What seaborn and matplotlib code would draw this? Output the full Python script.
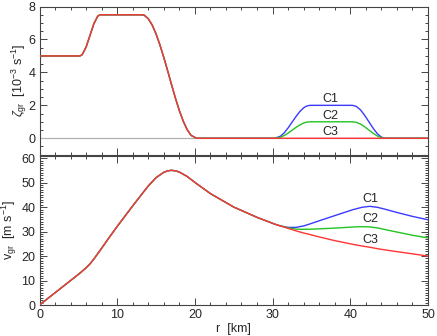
import matplotlib
matplotlib.use("Agg")
import matplotlib.pyplot as plt
import seaborn as sns
import numpy as np
import pandas as pd
from matplotlib.ticker import MultipleLocator

# ---- vorticity profile (10^-3 s^-1), shared part r <= 30.3 km ----
r_zeta_inner = [0, 5.2, 5.5, 6, 6.5, 7, 7.5, 7.8, 13.2, 13.5, 14, 14.5, 15, 15.5,
                16, 16.5, 17, 17.5, 18, 18.5, 19, 19.5, 20.2, 30.3]
zeta_inner = [5, 5, 5.08, 5.54, 6.25, 6.96, 7.42, 7.5, 7.5, 7.47, 7.26, 6.88, 6.34, 5.67,
              4.91, 4.09, 3.25, 2.43, 1.68, 1.04, 0.53, 0.18, 0, 0]

# outer part, one per case
r_zeta_outer = [31, 31.5, 32, 32.5, 33, 33.5, 34, 34.4, 34.8, 40.3, 40.8, 41.3,
                41.8, 42.4, 43, 43.5, 44, 44.5, 50]
zeta_c1 = [0.12, 0.33, 0.63, 0.97, 1.31, 1.62, 1.85, 1.96, 2, 2, 1.93, 1.73,
           1.43, 1.0, 0.57, 0.27, 0.07, 0, 0]
zeta_c2 = [0.06, 0.165, 0.315, 0.485, 0.655, 0.81, 0.925, 0.98, 1, 1, 0.965, 0.865,
           0.715, 0.5, 0.285, 0.135, 0.035, 0, 0]
zeta_c3 = [0] * len(r_zeta_outer)

# ---- gradient wind (m s^-1) ----
r_v_inner = [0, 2, 4, 5.2, 6, 6.5, 7, 7.8, 9, 10, 11, 12, 13.2, 14, 15, 16, 16.5,
             17, 17.5, 18, 19, 20.2, 22, 25, 28, 30.3]
v_inner = [0, 5.0, 10.0, 13.0, 15.2, 16.8, 18.8, 22.3, 27.7, 32.1, 36.3, 40.5, 45.4,
           48.6, 52.0, 54.2, 54.8, 55.0, 54.8, 54.3, 52.5, 49.6, 45.5, 40.0, 35.8, 33.0]

r_v_outer = [31, 32, 33, 34, 34.8, 36, 38, 40.3, 41.5, 42.5, 43.5, 44.5, 46, 48, 50]
v_c1 = [32.3, 31.7, 31.7, 32.3, 33.1, 34.4, 36.5, 38.9, 39.9, 40.3, 39.9, 39.1, 37.8, 36.2, 34.8]
v_c2 = [32.3, 31.5, 31.0, 30.9, 30.95, 31.1, 31.4, 31.85, 32.0, 31.9, 31.5, 30.8, 29.8, 28.5, 27.4]
v_c3 = [32.3, 31.3, 30.3, 29.4, 28.8, 27.8, 26.3, 24.8, 24.1, 23.6, 23.0, 22.5, 21.8, 20.9, 20.0]

cases = ["C1", "C2", "C3"]
colors = {"C1": "#3a3aff", "C2": "#22c322", "C3": "#ff3333"}


def long_frame(r_in, y_in, r_out, outer):
    rows = []
    for case, y_out in zip(cases, outer):
        for r, y in zip(r_in + r_out, y_in + y_out):
            rows.append({"r": r, "val": y, "case": case})
    return pd.DataFrame(rows)


zeta_df = long_frame(r_zeta_inner, zeta_inner, r_zeta_outer, [zeta_c1, zeta_c2, zeta_c3])
v_df = long_frame(r_v_inner, v_inner, r_v_outer, [v_c1, v_c2, v_c3])

sns.set_style("ticks")
plt.rcParams["font.family"] = ["Liberation Sans", "DejaVu Sans"]
plt.rcParams["mathtext.fontset"] = "custom"
plt.rcParams["mathtext.rm"] = "Liberation Sans"
plt.rcParams["mathtext.it"] = "Liberation Sans:italic"
plt.rcParams["font.size"] = 9

fig = plt.figure(figsize=(4.37, 3.36), dpi=100)
ax1 = fig.add_axes([0.0904, 0.5395, 0.8889, 0.4410])
ax2 = fig.add_axes([0.0904, 0.0922, 0.8889, 0.4446])

ax1.axhline(0, color="#b0b0b0", lw=0.9, zorder=1)
sns.lineplot(data=zeta_df, x="r", y="val", hue="case", palette=colors,
             estimator=None, lw=1.0, legend=False, ax=ax1, zorder=3)
sns.lineplot(data=v_df, x="r", y="val", hue="case", palette=colors,
             estimator=None, lw=1.0, legend=False, ax=ax2, zorder=3)

ax1.set_xlim(0, 50)
ax1.set_ylim(-1, 8)
ax2.set_xlim(0, 50)
ax2.set_ylim(0, 61)

ax1.yaxis.set_major_locator(MultipleLocator(2))
ax1.yaxis.set_minor_locator(MultipleLocator(0.5))
ax2.yaxis.set_major_locator(MultipleLocator(10))
ax2.yaxis.set_minor_locator(MultipleLocator(1))
for ax in (ax1, ax2):
    ax.xaxis.set_major_locator(MultipleLocator(10))
    ax.xaxis.set_minor_locator(MultipleLocator(2))
    ax.tick_params(which="both", direction="in", top=True, right=True,
                   color="#444444", width=0.7, labelsize=9)
    ax.tick_params(which="major", length=5, pad=3)
    ax.tick_params(which="minor", length=2.5)
    for s in ax.spines.values():
        s.set_color("#444444")
        s.set_linewidth(0.8)
ax1.tick_params(labelbottom=False)

ax1.set_xlabel("")
ax1.set_ylabel(r"$\zeta_{\mathrm{gr}}$  [10$^{-3}$ s$^{-1}$]", fontsize=9)
ax2.set_ylabel(r"v$_{\mathrm{gr}}$  [m s$^{-1}$]", fontsize=9)
ax2.set_xlabel("r  [km]", fontsize=9, labelpad=1)
ax1.yaxis.set_label_coords(-0.028, 0.5)
ax2.yaxis.set_label_coords(-0.052, 0.5)

for name, y in zip(cases, [2.36, 1.37, 0.36]):
    ax1.text(37.4, y, name, ha="center", va="center", fontsize=9)
for name, y in zip(cases, [43.1, 35.0, 26.4]):
    ax2.text(42.6, y, name, ha="center", va="center", fontsize=9)

fig.savefig("out.png", dpi=100)
